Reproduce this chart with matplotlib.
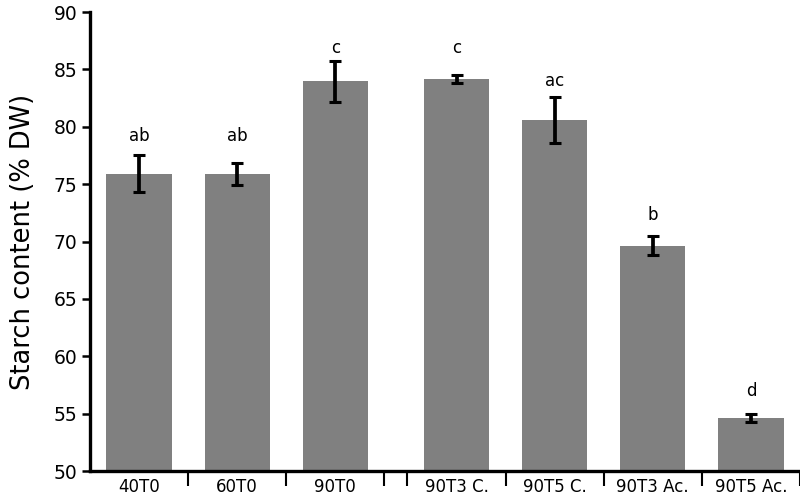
import matplotlib
matplotlib.use("Agg")
import matplotlib.pyplot as plt
import numpy as np

categories = ["40T0", "60T0", "90T0", "90T3 C.", "90T5 C.", "90T3 Ac.", "90T5 Ac."]
starch = [75.9, 75.85, 83.95, 84.15, 80.6, 69.65, 54.65]
errors = [1.6, 0.95, 1.75, 0.35, 2.0, 0.85, 0.35]
letters = ["ab", "ab", "c", "c", "ac", "b", "d"]
letter_heights = [79.2, 79.2, 86.9, 86.9, 84.0, 72.3, 57.0]

plt.rcParams['font.family'] = ['DejaVu Sans']

fig = plt.figure(figsize=(8, 4.96), dpi=100)
ax = fig.add_axes([0.1125, 0.0504, 0.8875, 0.9254])

gap = 0.235
pos = np.array([0.5, 1.5, 2.5, 3.5 + gap, 4.5 + gap, 5.5 + gap, 6.5 + gap])
bounds = [1, 2, 3, 3 + gap, 4 + gap, 5 + gap, 6 + gap, 7 + gap]

ax.bar(pos, starch, width=0.665, color="#808080", zorder=2)
ax.errorbar(pos, starch, yerr=errors, fmt="none", ecolor="black",
            elinewidth=2.7, capsize=4.5, capthick=2.2, zorder=3)
for x, y, t in zip(pos, letter_heights, letters):
    ax.text(x, y, t, ha="center", va="center", fontsize=12)

ax.set_xlim(0, 7 + gap)
ax.set_ylim(50, 90)
ax.set_yticks(np.arange(50, 91, 5))
ax.set_xticks(pos)
ax.set_xticklabels(categories, fontsize=12)
ax.set_xticks(bounds, minor=True)
ax.tick_params(axis="x", which="major", length=0, pad=5)
ax.tick_params(axis="x", which="minor", length=11, width=1.5, direction="out")
ax.tick_params(axis="y", length=6, width=1.8, labelsize=13.5, pad=3)
ax.set_ylabel("Starch content (% DW)", fontsize=18.5, labelpad=13)

for s in ["top", "right"]:
    ax.spines[s].set_visible(False)
for s in ["left", "bottom"]:
    ax.spines[s].set_linewidth(2.4)

fig.savefig("out.png", dpi=100)
